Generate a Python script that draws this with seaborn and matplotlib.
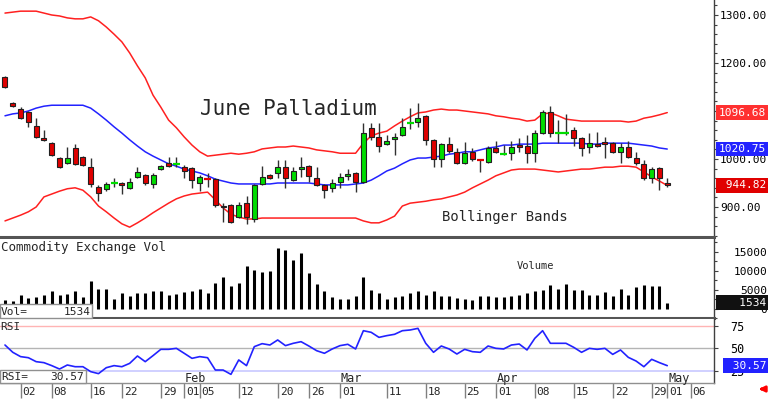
import matplotlib
matplotlib.use("Agg")
import matplotlib.pyplot as plt
import matplotlib.transforms as mtransforms
from matplotlib.patches import Rectangle
from matplotlib.ticker import MultipleLocator, FormatStrFormatter
import numpy as np
import pandas as pd
import seaborn as sns

# %% data (Dec 28 -> May 01, one value per session)
opens = [1171, 1117, 1104, 1098, 1069, 1044, 1033, 1002, 992, 1023,
         1004, 983, 942, 937, 950, 950, 940, 962, 967, 948,
         979, 992, 989, 983, 981, 950, 960, 958, 902, 904,
         879, 908, 875, 948, 967, 971, 983, 956, 979, 985,
         960, 946, 940, 952, 965, 971, 952, 1065, 1046, 1031,
         1042, 1050, 1073, 1077, 1090, 1040, 1000, 1031, 1015, 992,
         1015, 999, 994, 1023, 1010, 1012, 1029, 1027, 1012, 1054,
         1098, 1053, 1053, 1060, 1044, 1025, 1031, 1035, 1033, 1015,
         1025, 1002, 990, 960, 981, 950]
highs = [1173, 1119, 1108, 1100, 1085, 1060, 1035, 1004, 1025, 1031,
         1006, 1002, 946, 952, 960, 952, 960, 983, 969, 971,
         987, 1004, 1004, 987, 983, 967, 971, 960, 908, 906,
         910, 923, 948, 985, 969, 998, 998, 983, 1004, 987,
         983, 948, 958, 971, 979, 973, 1075, 1075, 1075, 1050,
         1054, 1085, 1106, 1117, 1092, 1042, 1033, 1046, 1023, 1035,
         1023, 1000, 1027, 1038, 1029, 1038, 1044, 1050, 1060, 1102,
         1110, 1081, 1094, 1067, 1046, 1054, 1056, 1046, 1035, 1033,
         1038, 1015, 998, 983, 983, 960]
lows = [1148, 1108, 1083, 1067, 1044, 1038, 1006, 981, 990, 988,
        985, 942, 912, 933, 942, 927, 938, 960, 946, 940,
        977, 983, 983, 960, 940, 933, 942, 900, 869, 867,
        877, 865, 869, 946, 958, 960, 940, 954, 962, 952,
        944, 919, 931, 940, 956, 931, 950, 1040, 1015, 1029,
        1008, 1048, 1063, 1067, 1029, 983, 983, 1012, 990, 990,
        996, 973, 992, 1012, 1008, 998, 1015, 992, 994, 1052,
        1046, 1033, 1050, 1027, 1006, 1012, 1025, 1002, 1012, 992,
        1002, 988, 956, 950, 935, 942]
closes = [1150, 1110, 1085, 1077, 1046, 1040, 1008, 983, 1002, 990,
          988, 948, 929, 948, 951, 946, 952, 973, 950, 967,
          985, 985, 990, 975, 956, 962, 959, 904, 899, 869,
          904, 879, 946, 962, 960, 983, 960, 975, 983, 965,
          946, 935, 950, 962, 969, 952, 1054, 1046, 1027, 1038,
          1046, 1067, 1074, 1085, 1040, 1000, 1031, 1017, 992, 1012,
          1000, 998, 1023, 1015, 1011, 1025, 1025, 1012, 1054, 1098,
          1054, 1054, 1054, 1044, 1023, 1033, 1027, 1031, 1015, 1025,
          1004, 992, 960, 979, 960, 945]

upper_band = [1304, 1306, 1308, 1308, 1308, 1304, 1300, 1298, 1294, 1292,
              1292, 1296, 1288, 1275, 1260, 1244, 1221, 1194, 1169, 1133,
              1108, 1081, 1065, 1046, 1029, 1015, 1006, 1008, 1010, 1012,
              1010, 1012, 1015, 1021, 1023, 1025, 1025, 1027, 1025, 1023,
              1019, 1017, 1015, 1012, 1012, 1012, 1033, 1048, 1054, 1058,
              1069, 1079, 1088, 1096, 1098, 1102, 1104, 1102, 1102, 1100,
              1098, 1096, 1094, 1090, 1088, 1085, 1083, 1079, 1081, 1094,
              1096, 1090, 1083, 1081, 1079, 1079, 1079, 1079, 1079, 1079,
              1077, 1079, 1085, 1088, 1092, 1096.68]
middle_band = [1090, 1094, 1096, 1100, 1106, 1110, 1112, 1112, 1112, 1112,
               1112, 1106, 1094, 1081, 1067, 1054, 1040, 1027, 1015, 1006,
               998, 990, 985, 979, 975, 971, 965, 958, 954, 950,
               948, 948, 948, 948, 948, 950, 950, 950, 950, 950,
               948, 946, 946, 946, 946, 948, 950, 956, 965, 975,
               981, 990, 998, 1002, 1002, 1004, 1006, 1010, 1012, 1015,
               1015, 1019, 1023, 1025, 1029, 1029, 1031, 1031, 1031, 1033,
               1033, 1033, 1033, 1033, 1033, 1031, 1031, 1033, 1033, 1033,
               1033, 1031, 1029, 1027, 1023, 1020.75]
lower_band = [871, 877, 883, 890, 900, 921, 927, 933, 938, 940,
              935, 921, 902, 890, 877, 865, 858, 867, 877, 888,
              898, 908, 917, 923, 927, 929, 931, 915, 898, 885,
              879, 875, 875, 877, 877, 877, 877, 877, 877, 877,
              877, 877, 877, 877, 877, 877, 871, 867, 867, 873,
              881, 902, 908, 910, 912, 915, 917, 921, 925, 931,
              940, 948, 956, 965, 971, 977, 979, 979, 979, 977,
              975, 973, 975, 977, 979, 979, 981, 983, 983, 985,
              985, 983, 973, 963, 954, 944.82]

volume = [2190, 1930, 3500, 2800, 2980, 3680, 4560, 3500, 3860, 4560,
          3070, 7190, 5170, 5170, 2630, 4120, 3250, 4120, 4120, 4560,
          4560, 3500, 3860, 4390, 4560, 5260, 3950, 6580, 8330, 6050,
          6750, 11140, 10090, 9560, 10000, 15790, 15520, 12720, 14650, 9380,
          6490, 4560, 2980, 2630, 2630, 3250, 8240, 5000, 4120, 2540,
          2980, 3250, 4120, 4560, 3500, 4560, 3420, 3160, 2800, 2630,
          2190, 3420, 3420, 2980, 2980, 3420, 3680, 4120, 4560, 4820,
          6140, 5170, 6490, 4820, 4820, 3680, 3500, 4300, 3420, 5170,
          3680, 5610, 6140, 5880, 5880, 1534]

rsi = [53.5, 45.4, 40.6, 39.4, 35.0, 33.9, 30.6, 26.8, 31.3, 29.4,
       29.4, 23.9, 21.7, 28.3, 30.6, 29.4, 33.1, 41.3, 35.0, 41.7,
       48.7, 48.7, 49.8, 44.3, 38.7, 40.6, 39.4, 25.7, 25.7, 20.9,
       36.9, 30.6, 51.7, 55.0, 53.5, 59.1, 52.8, 55.4, 57.2, 52.4,
       47.2, 44.3, 49.1, 52.8, 54.3, 49.1, 69.4, 67.6, 62.0, 63.9,
       65.4, 69.4, 70.2, 72.0, 55.4, 45.4, 52.4, 49.1, 43.5, 48.7,
       46.1, 45.4, 52.4, 49.8, 49.1, 53.5, 54.6, 48.0, 60.9, 69.4,
       55.4, 55.4, 55.4, 50.9, 45.4, 49.8, 48.7, 49.8, 43.1, 48.0,
       39.8, 35.7, 29.4, 37.6, 33.9, 30.57]

# session index of each date label (0 = Dec 28)
tick_pos = [2, 6, 11, 15, 20, 23, 25, 30, 35, 39, 43, 49, 54, 59, 63, 68, 73, 78, 83, 85, 88]
tick_lbl = ["02", "08", "16", "22", "29", "01", "05", "12", "20", "26", "01",
            "11", "18", "25", "01", "08", "15", "22", "29", "01", "06"]
month_pos = [23, 43, 63, 85]
month_lbl = ["Feb", "Mar", "Apr", "May"]

df = pd.DataFrame({"i": np.arange(len(opens)), "open": opens, "high": highs,
                   "low": lows, "close": closes, "upper": upper_band,
                   "middle": middle_band, "lower": lower_band,
                   "vol": volume, "rsi": rsi})

# %% figure / panels
sns.set_style("white")
plt.rcParams["font.family"] = ["DejaVu Sans Mono", "DejaVu Sans"]

W, H = 768, 399
fig = plt.figure(figsize=(W / 100, H / 100), dpi=100)


def panel(top, bottom, **kw):
    return fig.add_axes([0, 1 - bottom / H, 714 / W, (bottom - top) / H], **kw)


ax = panel(0, 237)
axv = panel(239, 318, sharex=ax)
axr = panel(319, 383, sharex=ax)

GREEN, RED, BLUE = "#00dd00", "#e00000", "#2222ff"

# %% candles + bollinger bands
ax.vlines(df.i, df.low, df.high, color="#303030", lw=1, zorder=3)
body = (df.close - df.open).abs()
up = df.close >= df.open
solid = body >= 1.5
cols = np.where(up, GREEN, RED)
ax.bar(df.i[solid], body[solid], bottom=np.minimum(df.open, df.close)[solid],
       width=0.64, color=cols[solid], edgecolor="#202020", linewidth=0.8, zorder=4)
ax.hlines(df.close[~solid], df.i[~solid] - 0.45, df.i[~solid] + 0.45,
          colors=cols[~solid], lw=1.6, zorder=4)

for col, c in [("upper", "#ff2020"), ("middle", BLUE), ("lower", "#ff2020")]:
    sns.lineplot(data=df, x="i", y=col, ax=ax, color=c, lw=1.1,
                 estimator=None, sort=False, legend=False, zorder=2)

ax.set_xlim(-0.64, 91.0)
ax.set_ylim(837.5, 1331.25)

# %% volume
axv.vlines(df.i, 0, df.vol, color="black", lw=2.2)
axv.set_ylim(-2500, 18290)

# %% RSI
axr.axhline(75, color="#ffb4b4", lw=1)
axr.axhline(50, color="#b4b4b4", lw=1)
axr.axhline(25, color="#c8c8ff", lw=1.2)
sns.lineplot(data=df, x="i", y="rsi", ax=axr, color=BLUE, lw=1.2,
             estimator=None, sort=False, legend=False)
axr.set_ylim(11.3, 82.4)

# %% axes styling
for a in (ax, axv, axr):
    a.set_xlabel("")
    a.set_ylabel("")
    a.set_facecolor("white")
    for s in ("top", "left"):
        a.spines[s].set_visible(False)
    a.spines["right"].set_color("#404040")
    a.spines["right"].set_linewidth(1)
    a.yaxis.tick_right()
    a.tick_params(axis="y", which="both", colors="#404040", labelcolor="black",
                  labelsize=8, length=3, width=0.8)
    a.tick_params(axis="y", which="minor", length=2)
    a.tick_params(axis="x", bottom=False, labelbottom=False)

ax.spines["bottom"].set(color="#555555", linewidth=2.2)
axv.spines["bottom"].set(color="#555555", linewidth=2.2)
axr.spines["bottom"].set(color="#909090", linewidth=1)

ax.set_yticks([900, 1000, 1100, 1200, 1300])
ax.yaxis.set_minor_locator(MultipleLocator(20))
ax.yaxis.set_major_formatter(FormatStrFormatter("%.2f"))
ax.tick_params(axis="y", pad=1.4)

axv.set_yticks([0, 5000, 10000, 15000])
axv.yaxis.set_minor_locator(MultipleLocator(2500))
axv.tick_params(axis="y", pad=35.3)
for t in axv.get_yticklabels():
    t.set_ha("right")

axr.set_yticks([25, 50, 75])
axr.tick_params(axis="y", pad=8.6, labelsize=8.5)

axr.set_xticks(tick_pos)
axr.tick_params(axis="x", bottom=True, direction="out", length=10.5,
                width=1, color="#808080", labelbottom=False)

# date labels under the ticks, month names inside the RSI panel
tx = mtransforms.blended_transform_factory(axr.transData, fig.transFigure)
for p, s in zip(tick_pos, tick_lbl):
    fig.text(p + 0.25, 1 - 395 / H, s, transform=tx, fontsize=8,
             ha="left", va="baseline")
for p, s in zip(month_pos, month_lbl):
    fig.text(p + 0.1, 1 - 382 / H, s, transform=tx, fontsize=8.5,
             ha="left", va="baseline")

# %% last-value tags on the right axis
def tag(a, value, text, fc):
    tr = mtransforms.blended_transform_factory(fig.transFigure, a.transData)
    a.text(766 / W, value, text, transform=tr, color="white", fontsize=8,
           ha="right", va="center", zorder=10, clip_on=False,
           bbox=dict(boxstyle="square,pad=0.22", fc=fc, ec="none"))


tag(ax, upper_band[-1], f"{upper_band[-1]:.2f}", "#ff3030")
tag(ax, middle_band[-1], f"{middle_band[-1]:.2f}", BLUE)
tag(ax, lower_band[-1], f" {lower_band[-1]:.2f}", "#e00000")
tag(axv, volume[-1], f"   {volume[-1]}", "#111111")
tag(axr, rsi[-1], f" {rsi[-1]:.2f}", BLUE)

# %% captions
fig.text(200 / W, 1 - 115 / H, "June Palladium", fontsize=15, va="baseline")
fig.text(442 / W, 1 - 221 / H, "Bollinger Bands", fontsize=10, va="baseline")
fig.text(1 / W, 1 - 251 / H, "Commodity Exchange Vol", fontsize=9, va="baseline")
fig.text(517 / W, 1 - 269 / H, "Volume", fontsize=7.5, va="baseline")
fig.text(0, 1 - 330 / H, "RSI", fontsize=8, va="baseline")

fig.add_artist(Rectangle((0, 1 - 318 / H), 92 / W, 14 / H, transform=fig.transFigure,
                         fc="white", ec="#909090", lw=1, zorder=5))
fig.text(1 / W, 1 - 315 / H, "Vol=", fontsize=8, va="baseline", zorder=6)
fig.text(91 / W, 1 - 315 / H, f"{volume[-1]}", fontsize=8, va="baseline",
         ha="right", zorder=6)
fig.add_artist(Rectangle((0, 1 - 383 / H), 86 / W, 13 / H, transform=fig.transFigure,
                         fc="white", ec="#909090", lw=1, zorder=5))
fig.text(1 / W, 1 - 380 / H, "RSI=", fontsize=8, va="baseline", zorder=6)
fig.text(84 / W, 1 - 380 / H, f"{rsi[-1]:.2f}", fontsize=8, va="baseline",
         ha="right", zorder=6)

fig.add_artist(matplotlib.patches.FancyArrowPatch(
    (767 / W, 1 - 389 / H), (756 / W, 1 - 389 / H), transform=fig.transFigure,
    arrowstyle="-|>", mutation_scale=8, color="red", lw=2))

fig.savefig("out.png", dpi=100, facecolor="white")
